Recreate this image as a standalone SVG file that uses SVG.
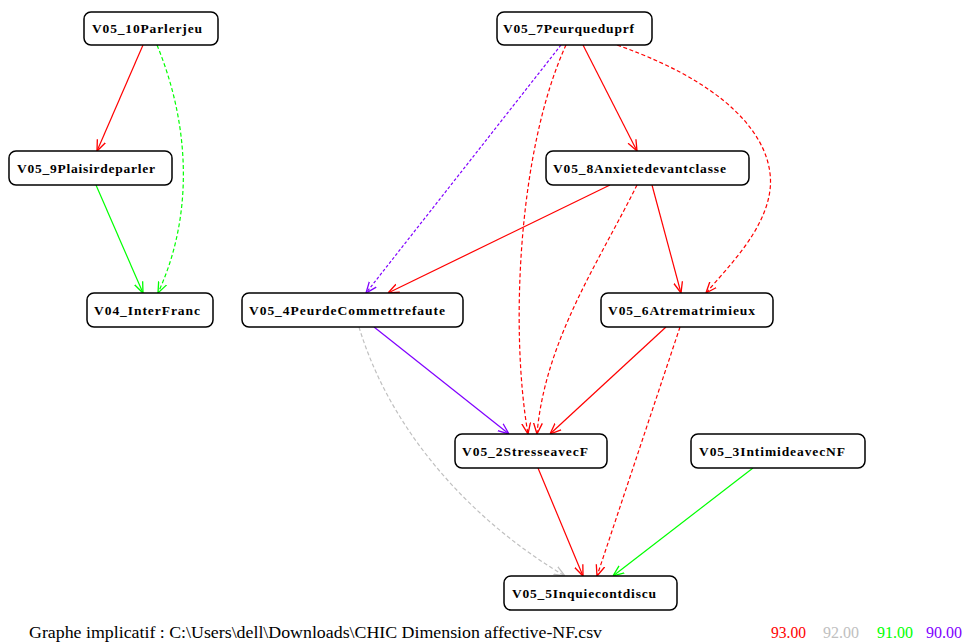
<svg xmlns="http://www.w3.org/2000/svg" width="966" height="643" viewBox="0 0 966 643">
<style>
.box{fill:#fff;stroke:#000;stroke-width:1.5}
.lbl{font-family:"Liberation Serif","Times New Roman",serif;font-weight:bold;font-size:13.5px;fill:#000}
.e{fill:none;stroke-width:1.2}
.r{stroke:#ff0000}
.g{stroke:#00ff00}
.gr{stroke:#c0c0c0}
.p{stroke:#8000ff}
.d{stroke-dasharray:4,2.5}
.foot{font-family:"Liberation Serif","Times New Roman",serif;font-size:16px}
</style>
<defs>
<marker id="aR" viewBox="0 0 10 10" refX="10" refY="5" markerWidth="11" markerHeight="11" markerUnits="userSpaceOnUse" orient="auto"><path d="M0,1 L10,5 L0,9" fill="none" stroke="#ff0000" stroke-width="1.2"/></marker>
<marker id="aG" viewBox="0 0 10 10" refX="10" refY="5" markerWidth="11" markerHeight="11" markerUnits="userSpaceOnUse" orient="auto"><path d="M0,1 L10,5 L0,9" fill="none" stroke="#00ff00" stroke-width="1.2"/></marker>
<marker id="aGr" viewBox="0 0 10 10" refX="10" refY="5" markerWidth="11" markerHeight="11" markerUnits="userSpaceOnUse" orient="auto"><path d="M0,1 L10,5 L0,9" fill="none" stroke="#c0c0c0" stroke-width="1.2"/></marker>
<marker id="aP" viewBox="0 0 10 10" refX="10" refY="5" markerWidth="11" markerHeight="11" markerUnits="userSpaceOnUse" orient="auto"><path d="M0,1 L10,5 L0,9" fill="none" stroke="#8000ff" stroke-width="1.2"/></marker>
</defs>
<rect width="966" height="643" fill="#fff"/>
<g id="connectors">
<path class="e r" d="M143,45 L97,151" marker-end="url(#aR)"/>
<path class="e g d" d="M157,45 C192,130 192,220 158,293" marker-end="url(#aG)"/>
<path class="e g" d="M96,185 L143,293" marker-end="url(#aG)"/>
<path class="e r" d="M583,45 L637,151" marker-end="url(#aR)"/>
<path class="e p" style="stroke-dasharray:3,2" d="M561,45 L366,293" marker-end="url(#aP)"/>
<path class="e r d" d="M566,45 C518,150 510,330 528,434" marker-end="url(#aR)"/>
<path class="e r d" d="M617,45 C745,90 775,150 770,190 C765,230 730,265 706,293" marker-end="url(#aR)"/>
<path class="e r" d="M610,185 L388,293" marker-end="url(#aR)"/>
<path class="e r" d="M652,185 L681,293" marker-end="url(#aR)"/>
<path class="e r d" d="M637,185 C600,260 545,340 537,434" marker-end="url(#aR)"/>
<path class="e p" d="M374,327 L509,434" marker-end="url(#aP)"/>
<path class="e gr d" d="M359,327 C390,430 470,520 565,576" marker-end="url(#aGr)"/>
<path class="e r" d="M666,327 L550,434" marker-end="url(#aR)"/>
<path class="e r d" d="M680,327 L597,576" marker-end="url(#aR)"/>
<path class="e r" d="M538,468 L583,576" marker-end="url(#aR)"/>
<path class="e g" d="M753,468 L613,576" marker-end="url(#aG)"/>
</g>
<g id="V05_10Parlerjeu"><rect class="box" x="84" y="12" width="134" height="33" rx="7"/><text class="lbl" x="92" y="33" textLength="110" lengthAdjust="spacing">V05_10Parlerjeu</text></g>
<g id="V05_9Plaisirdeparler"><rect class="box" x="9" y="151" width="163" height="34" rx="7"/><text class="lbl" x="17" y="173" textLength="138" lengthAdjust="spacing">V05_9Plaisirdeparler</text></g>
<g id="V04_InterFranc"><rect class="box" x="87" y="293" width="126" height="34" rx="7"/><text class="lbl" x="94" y="314.5" textLength="106" lengthAdjust="spacing">V04_InterFranc</text></g>
<g id="V05_7Peurqueduprf"><rect class="box" x="497" y="12" width="155" height="33" rx="7"/><text class="lbl" x="503" y="33" textLength="131" lengthAdjust="spacing">V05_7Peurqueduprf</text></g>
<g id="V05_8Anxietedevantclasse"><rect class="box" x="546" y="151" width="203" height="34" rx="7"/><text class="lbl" x="553" y="173" textLength="173" lengthAdjust="spacing">V05_8Anxietedevantclasse</text></g>
<g id="V05_4PeurdeCommettrefaute"><rect class="box" x="242" y="293" width="221" height="34" rx="7"/><text class="lbl" x="249" y="314.5" textLength="196" lengthAdjust="spacing">V05_4PeurdeCommettrefaute</text></g>
<g id="V05_6Atrematrimieux"><rect class="box" x="601" y="293" width="172" height="34" rx="7"/><text class="lbl" x="608" y="314.5" textLength="147" lengthAdjust="spacing">V05_6Atrematrimieux</text></g>
<g id="V05_2StresseavecF"><rect class="box" x="455" y="434" width="152" height="34" rx="7"/><text class="lbl" x="462" y="455.5" textLength="126" lengthAdjust="spacing">V05_2StresseavecF</text></g>
<g id="V05_3IntimideavecNF"><rect class="box" x="691" y="434" width="174" height="34" rx="7"/><text class="lbl" x="699" y="455.5" textLength="146" lengthAdjust="spacing">V05_3IntimideavecNF</text></g>
<g id="V05_5Inquiecontdiscu"><rect class="box" x="504" y="576" width="173" height="34" rx="7"/><text class="lbl" x="512" y="597.5" textLength="144" lengthAdjust="spacing">V05_5Inquiecontdiscu</text></g>
<g id="footer">
<text class="foot" x="29" y="638" textLength="573" lengthAdjust="spacingAndGlyphs" fill="#000">Graphe implicatif : C:\Users\dell\Downloads\CHIC Dimension affective-NF.csv</text>
<text class="foot" x="771" y="638" textLength="35" lengthAdjust="spacingAndGlyphs" fill="#ff0000">93.00</text>
<text class="foot" x="823" y="638" textLength="36" lengthAdjust="spacingAndGlyphs" fill="#c0c0c0">92.00</text>
<text class="foot" x="877" y="638" textLength="36" lengthAdjust="spacingAndGlyphs" fill="#00ff00">91.00</text>
<text class="foot" x="926" y="638" textLength="36" lengthAdjust="spacingAndGlyphs" fill="#8000ff">90.00</text>
</g>
</svg>
